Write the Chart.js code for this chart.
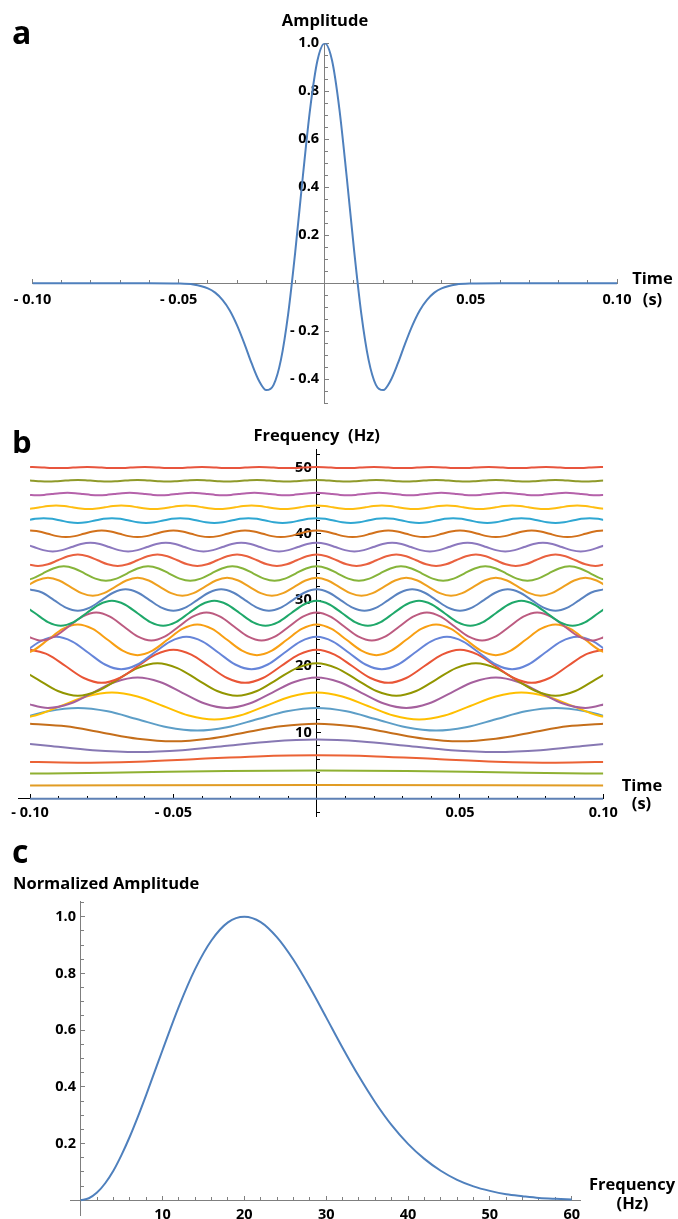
<!DOCTYPE html>
<html>
<head>
<meta charset="utf-8">
<script src="https://cdn.jsdelivr.net/npm/chart.js@4.4.1/dist/chart.umd.min.js"></script>
<style>
  html, body { margin: 0; padding: 0; background: #fff; overflow: hidden; }
  #page { position: relative; width: 678px; height: 1219px; overflow: hidden;
          font-family: "Open Sans", sans-serif; font-weight: 700; color: #000; }
  canvas { position: absolute; left: 0; }
  .t { position: absolute; white-space: pre; line-height: 1; font-size: 16.5px; }
  .c { transform: translateX(-50%); }
</style>
</head>
<body>
<div id="page">
  <canvas id="chartA" width="678" height="430" style="top:0px"></canvas>
  <canvas id="chartB" width="678" height="420" style="top:420px"></canvas>
  <canvas id="chartC" width="678" height="420" style="top:840px"></canvas>

  <div class="t" style="left:12px;top:15.6px;font-size:32px">a</div>
  <div class="t c" style="left:325px;top:12.35px">Amplitude</div>
  <div class="t c" style="left:652.5px;top:270.35px">Time</div>
  <div class="t c" style="left:652.5px;top:291.35px">(s)</div>

  <div class="t" style="left:12px;top:425.5px;font-size:31px">b</div>
  <div class="t c" style="left:316.7px;top:427.35px">Frequency  (Hz)</div>
  <div class="t c" style="left:642px;top:777.35px">Time</div>
  <div class="t c" style="left:641.5px;top:795.35px">(s)</div>

  <div class="t" style="left:12px;top:834.6px;font-size:32px">c</div>
  <div class="t" style="left:13px;top:875.35px">Normalized Amplitude</div>
  <div class="t c" style="left:632px;top:1176.35px">Frequency</div>
  <div class="t c" style="left:632.5px;top:1195.35px">(Hz)</div>
</div>

<script>
// ---------- a: the wavelet in time ----------
const waveTime = [-0.1, -0.09, -0.08, -0.07, -0.06, -0.05, -0.045, -0.04, -0.0375, -0.035,
  -0.0325, -0.03, -0.0275, -0.025, -0.0225, -0.02, -0.0175, -0.015, -0.0125, -0.01,
  -0.0075, -0.005, -0.0025, 0, 0.0025, 0.005, 0.0075, 0.01, 0.0125, 0.015,
  0.0175, 0.02, 0.0225, 0.025, 0.0275, 0.03, 0.0325, 0.035, 0.0375, 0.04,
  0.045, 0.05, 0.06, 0.07, 0.08, 0.09, 0.1];
const waveAmp = [0, 0, 0, 0, 0, -0.001, -0.005, -0.021, -0.039, -0.069,
  -0.113, -0.175, -0.251, -0.334, -0.406, -0.445, -0.423, -0.319, -0.126, 0.142,
  0.445, 0.727, 0.928, 1.0, 0.928, 0.727, 0.445, 0.142, -0.126, -0.319,
  -0.423, -0.445, -0.406, -0.334, -0.251, -0.175, -0.113, -0.069, -0.039, -0.021,
  -0.005, -0.001, 0, 0, 0, 0, 0];
const aTimeTicks = [-0.1, -0.05, 0.05, 0.1];
const aTimeTickLabels = ['- 0.10', '- 0.05', '0.05', '0.10'];
const aAmpTicks = [-0.4, -0.2, 0.2, 0.4, 0.6, 0.8, 1.0];
const aAmpTickLabels = ['- 0.4', '- 0.2', '0.2', '0.4', '0.6', '0.8', '1.0'];

// ---------- b: cosine components, one per frequency ----------
const bandFreqs = [0, 2, 4, 6, 8, 10, 12, 14, 16, 18, 20, 22, 24,
  26, 28, 30, 32, 34, 36, 38, 40, 42, 44, 46, 48, 50];
const bandAmps = [0, 0.07, 0.26, 0.56, 0.93, 1.32, 1.71, 2.04, 2.29, 2.45, 2.5, 2.45, 2.32,
  2.12, 1.88, 1.61, 1.35, 1.09, 0.86, 0.66, 0.5, 0.36, 0.26, 0.18, 0.12, 0.08];
const bandColors = ['#5E81B5', '#E19C24', '#8FB032', '#EB6235', '#8778B3', '#C56E1A', '#5D9EC7',
  '#FFBF00', '#A5609D', '#929600', '#E95536', '#6685D9', '#F89F13', '#BC5B80', '#1FA86A',
  '#5A83C0', '#EFA01F', '#86B43A', '#E9613F', '#8C78BE', '#D2711B', '#2FA7D2', '#FFBE11',
  '#B562AA', '#8F9A2A', '#E8553D'];
// one cycle of a cosine, crest first, in eighth-period steps
const waveProfile = [1, 0.707, 0, -0.707, -1, -0.707, 0, 0.707];
const bTimeTicks = [-0.1, -0.05, 0.05, 0.1];
const bTimeTickLabels = ['- 0.10', '- 0.05', '0.05', '0.10'];
const bFreqTicks = [10, 20, 30, 40, 50];
const bFreqTickLabels = ['10', '20', '30', '40', '50'];

// ---------- c: amplitude spectrum ----------
const specFreqs = [0, 1, 2, 3, 4, 5, 6, 7, 8, 9, 10, 12, 14, 16, 18, 20, 22, 24, 26, 28, 30,
  32, 34, 36, 38, 40, 42, 44, 46, 48, 50, 52, 54, 56, 58, 60];
const specAmp = [0, 0.007, 0.027, 0.060, 0.104, 0.160, 0.224, 0.295, 0.371, 0.450, 0.529,
  0.683, 0.816, 0.917, 0.980, 1.0, 0.981, 0.927, 0.848, 0.751, 0.645,
  0.538, 0.437, 0.345, 0.265, 0.199, 0.146, 0.104, 0.072, 0.049, 0.033,
  0.021, 0.014, 0.008, 0.005, 0.003];
const cFreqTicks = [10, 20, 30, 40, 50, 60];
const cFreqTickLabels = ['10', '20', '30', '40', '50', '60'];
const cAmpTicks = [0.2, 0.4, 0.6, 0.8, 1.0];
const cAmpTickLabels = ['0.2', '0.4', '0.6', '0.8', '1.0'];

// ---------- shared helpers ----------
const FONT = '"Open Sans", sans-serif';
const TICK_FONT = { family: FONT, size: 14.5, weight: 'bold' };

function steps(from, to, step) {
  const out = [];
  const n = Math.round((to - from) / step);
  for (let i = 0; i <= n; i++) out.push(+(from + i * step).toFixed(6));
  return out;
}

const fixedTicks = list => s => { s.ticks = list.map(v => ({ value: v })); };

// Axis line through the other axis' zero, with major ticks pointing inward.
// Horizontal axes also carry their labels.
function mainAxis(axis, min, max, ticks, labels, color, pad) {
  const other = axis === 'x' ? 'y' : 'x';
  return {
    type: 'linear', axis, min, max, z: 1,
    position: { [other]: 0 },
    border: { display: true, color, width: 1 },
    grid: { display: true, drawOnChartArea: false, drawTicks: true,
            tickLength: -5, tickColor: color, tickWidth: 1 },
    ticks: axis === 'x'
      ? { autoSkip: false, maxRotation: 0, minRotation: 0, color: '#000', padding: pad,
          font: TICK_FONT, callback: (v, i) => labels[i] }
      : { display: false },
    afterBuildTicks: fixedTicks(ticks)
  };
}

// Labels for a vertical axis, set a little to the left of the axis line.
function labelAxis(min, max, ticks, labels, shift) {
  return {
    type: 'linear', axis: 'y', min, max, z: 1,
    position: { x: shift },
    border: { display: false },
    grid: { display: false },
    ticks: { autoSkip: false, color: '#000', font: TICK_FONT, callback: (v, i) => labels[i] },
    afterBuildTicks: fixedTicks(ticks)
  };
}

// Short unlabeled ticks at every minor step.
function minorAxis(axis, min, max, ticks, color) {
  const other = axis === 'x' ? 'y' : 'x';
  return {
    type: 'linear', axis, min, max, z: 1,
    position: { [other]: 0 },
    border: { display: false },
    grid: { display: true, drawOnChartArea: false, drawTicks: true,
            tickLength: -3, tickColor: color, tickWidth: 1 },
    ticks: { display: false },
    afterBuildTicks: fixedTicks(ticks)
  };
}

function baseOptions(padding, scales, extraPlugins) {
  return {
    responsive: false, animation: false, events: [],
    layout: { padding },
    plugins: Object.assign({ legend: { display: false }, tooltip: { enabled: false } }, extraPlugins),
    elements: { point: { radius: 0 }, line: { capBezierPoints: false } },
    scales
  };
}

// Keeps the component curves inside a time window.
const timeWindow = {
  id: 'timeWindow',
  beforeDatasetsDraw(chart, args, opts) {
    const xs = chart.scales.x, area = chart.chartArea, ctx = chart.ctx;
    const l = xs.getPixelForValue(opts.from), r = xs.getPixelForValue(opts.to);
    ctx.save();
    ctx.beginPath();
    ctx.rect(l, area.top - 10, r - l, area.bottom - area.top + 20);
    ctx.clip();
  },
  afterDatasetsDraw(chart) { chart.ctx.restore(); }
};

// ---------- chart a ----------
const aGray = '#7f7f7f';
new Chart(document.getElementById('chartA'), {
  type: 'line',
  data: {
    datasets: [{
      data: waveTime.map((t, i) => ({ x: t, y: waveAmp[i] })),
      borderColor: '#4f80bd', borderWidth: 2, cubicInterpolationMode: 'monotone', fill: false
    }]
  },
  options: baseOptions({ left: 32.5, right: 61, top: 43.3, bottom: 26.7 }, {
    x: mainAxis('x', -0.1, 0.1, aTimeTicks, aTimeTickLabels, aGray, 13),
    y: mainAxis('y', -0.5, 1.0, aAmpTicks, aAmpTickLabels, aGray),
    yLabels: labelAxis(-0.5, 1.0, aAmpTicks, aAmpTickLabels, -0.00195),
    xMinor: minorAxis('x', -0.1, 0.1, steps(-0.1, 0.1, 0.01), aGray),
    yMinor: minorAxis('y', -0.5, 1.0, steps(-0.5, 1.0, 0.05), aGray)
  })
});

// ---------- chart b ----------
const bandSets = bandFreqs.map((f, i) => {
  const amp = bandAmps[i];
  let pts;
  if (f === 0) {
    pts = [{ x: -0.1, y: 0 }, { x: 0.1, y: 0 }];
  } else {
    const step = 1 / (8 * f);                 // eighth of a period
    const k = Math.ceil(0.1 / step - 1e-9);
    pts = [];
    for (let j = -k; j <= k; j++) {
      pts.push({ x: j * step, y: f + amp * waveProfile[((j % 8) + 8) % 8] });
    }
  }
  return { data: pts, borderColor: bandColors[i], borderWidth: 2,
           cubicInterpolationMode: 'monotone', fill: false };
});

const bBlack = '#000';
new Chart(document.getElementById('chartB'), {
  type: 'line',
  data: { datasets: bandSets.reverse() },
  options: baseOptions({ left: 18.3, right: 74.7, top: 29, bottom: 24 }, {
    x: mainAxis('x', -0.1041, 0.1, bTimeTicks, bTimeTickLabels, bBlack, 10),
    y: mainAxis('y', -2.6, 52.8, bFreqTicks, bFreqTickLabels, bBlack),
    yLabels: labelAxis(-2.6, 52.8, bFreqTicks, bFreqTickLabels, -0.00174),
    xMinor: minorAxis('x', -0.1041, 0.1, steps(-0.1, 0.1, 0.01), bBlack),
    yMinor: minorAxis('y', -2.6, 52.8, steps(-2, 52, 2), bBlack)
  }, { timeWindow: { from: -0.1, to: 0.1 } }),
  plugins: [timeWindow]
});

// ---------- chart c ----------
const cGray = '#7f7f7f';
new Chart(document.getElementById('chartC'), {
  type: 'line',
  data: {
    datasets: [{
      data: specFreqs.map((f, i) => ({ x: f, y: specAmp[i] })),
      borderColor: '#4f80bd', borderWidth: 2, cubicInterpolationMode: 'monotone', fill: false
    }]
  },
  options: baseOptions({ left: 70, right: 97.3, top: 61.7, bottom: 45 }, {
    x: mainAxis('x', -1.3, 61.1, cFreqTicks, cFreqTickLabels, cGray, 11),
    y: mainAxis('y', -0.052, 1.053, cAmpTicks, cAmpTickLabels, cGray),
    yLabels: labelAxis(-0.052, 1.053, cAmpTicks, cAmpTickLabels, -0.574),
    xMinor: minorAxis('x', -1.3, 61.1, steps(2, 60, 2), cGray),
    yMinor: minorAxis('y', -0.052, 1.053, steps(0, 1.05, 0.05), cGray)
  })
});
</script>
</body>
</html>
